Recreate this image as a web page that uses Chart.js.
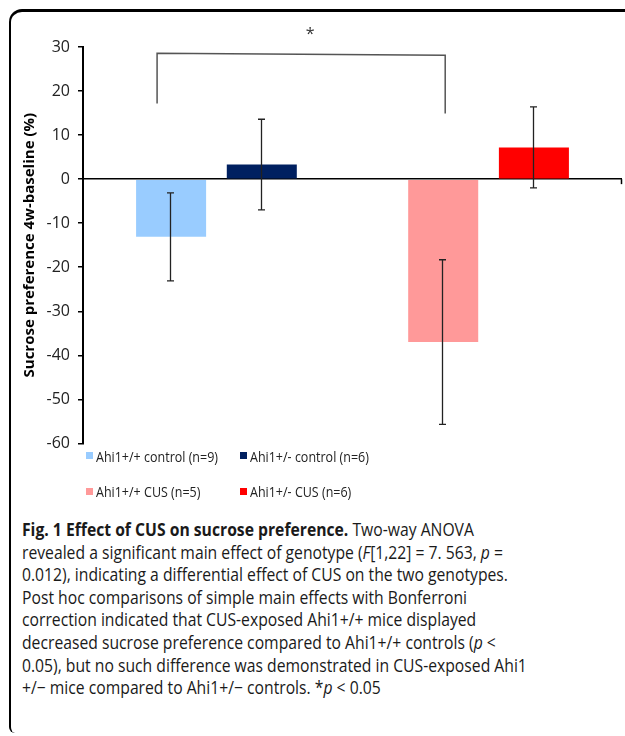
<!DOCTYPE html>
<html>
<head>
<meta charset="utf-8">
<title>Effect of CUS on sucrose preference</title>
<script src="https://cdn.jsdelivr.net/npm/chart.js@4/dist/chart.umd.min.js"></script>
<style>
  html, body { margin: 0; padding: 0; background: #fff; }
  body { width: 625px; height: 736px; position: relative; overflow: hidden; }
  #frame {
    position: absolute; left: 9px; top: 9px; width: 640px; height: 724px;
    border-left: 2px solid #000; border-top: 3px solid #000;
    border-top-left-radius: 13px; border-bottom-left-radius: 6px;
    box-sizing: border-box;
  }
  #chart { position: absolute; left: 0; top: 0; }
  #legend {
    position: absolute; left: 86px; top: 438px;
    display: grid; grid-template-columns: 154px auto; grid-auto-rows: 35.5px;
    font-family: "Open Sans", sans-serif; font-size: 15px; color: #222;
  }
  #legend .item { display: flex; align-items: center; white-space: nowrap; }
  #legend .sw { width: 7px; height: 7px; margin-right: 3px; flex: none; }
  #legend .tx { display: inline-block; transform-origin: 0 50%; }
  #caption {
    position: absolute; left: 22px; top: 518px;
    font-family: "Open Sans", sans-serif; font-size: 17.5px; line-height: 22.6px;
    color: #1a1a1a; transform-origin: 0 0; white-space: nowrap;
  }
  #caption div { display: block; }
  #caption span.ln { display: inline-block; }
</style>
</head>
<body>
<div id="frame"></div>
<canvas id="chart" width="625" height="461"></canvas>
<div id="legend"></div>
<div id="caption">
  <div><span class="ln"><b>Fig. 1 Effect of CUS on sucrose preference.</b> Two-way ANOVA</span></div>
  <div><span class="ln">revealed a significant main effect of genotype (<i>F</i>[1,22] = 7. 563, <i>p</i> =</span></div>
  <div><span class="ln" id="refLine">0.012), indicating a differential effect of CUS on the two genotypes.</span></div>
  <div><span class="ln">Post hoc comparisons of simple main effects with Bonferroni</span></div>
  <div><span class="ln">correction indicated that CUS-exposed Ahi1+/+ mice displayed</span></div>
  <div><span class="ln">decreased sucrose preference compared to Ahi1+/+ controls (<i>p</i> &lt;</span></div>
  <div><span class="ln">0.05), but no such difference was demonstrated in CUS-exposed Ahi1</span></div>
  <div><span class="ln">+/− mice compared to Ahi1+/− controls. *<i>p</i> &lt; 0.05</span></div>
</div>
<script>
// Groups, means and error (± half-range) of sucrose preference change, 4 weeks vs baseline (%)
const groups = ['Ahi1+/+ control (n=9)', 'Ahi1+/- control (n=6)', 'Ahi1+/+ CUS (n=5)', 'Ahi1+/- CUS (n=6)'];
const means = [-13.1, 3.3, -37.0, 7.2];
const errors = [10.0, 10.3, 18.7, 9.2];
const colors = ['#99ccff', '#002060', '#ff9999', '#ff0000'];
const yTicks = [-60, -50, -40, -30, -20, -10, 0, 10, 20, 30];
const yTitle = 'Sucrose preference 4w-baseline (%)';
// Significance bracket between Ahi1+/+ control and Ahi1+/+ CUS (y values in %)
const bracketY = { leftFoot: 17.2, leftTop: 28.6, rightTop: 28.1, rightFoot: 14.9, star: 33.6 };
const bracketLabel = '*';

// Control bars and CUS bars are separated by one empty slot
const datasets = [];
groups.forEach((g, i) => {
  if (i === 2) {
    datasets.push({ label: '', data: [null], backgroundColor: 'rgba(0,0,0,0)', spacer: true });
  }
  datasets.push({ label: g, data: [means[i]], backgroundColor: colors[i], err: errors[i] });
});

const errorBars = {
  id: 'errorBars',
  afterDatasetsDraw(chart) {
    const { ctx, scales: { y } } = chart;
    ctx.save();
    ctx.strokeStyle = '#222';
    ctx.lineWidth = 1.3;
    chart.data.datasets.forEach((ds, di) => {
      if (ds.spacer) return;
      chart.getDatasetMeta(di).data.forEach((bar, j) => {
        const v = ds.data[j];
        const top = y.getPixelForValue(v + ds.err);
        const bot = y.getPixelForValue(v - ds.err);
        const x = Math.round(bar.x) - 0.5;
        const cap = 3.5;
        ctx.beginPath();
        ctx.moveTo(x, top); ctx.lineTo(x, bot);
        ctx.moveTo(x - cap, top); ctx.lineTo(x + cap, top);
        ctx.moveTo(x - cap, bot); ctx.lineTo(x + cap, bot);
        ctx.stroke();
      });
    });
    ctx.restore();
  }
};

const annotations = {
  id: 'annotations',
  afterDraw(chart) {
    const { ctx, scales: { y }, chartArea } = chart;
    const bars = chart.data.datasets.map((ds, i) => ds.spacer ? null : chart.getDatasetMeta(i).data[0]).filter(Boolean);
    const b1 = bars[0], b3 = bars[2];
    const xl = b1.x - b1.width * 0.2;
    const xr = b3.x + 2;
    ctx.save();
    // bracket
    ctx.strokeStyle = '#555';
    ctx.lineWidth = 1.5;
    ctx.beginPath();
    ctx.moveTo(xl, y.getPixelForValue(bracketY.leftFoot));
    ctx.lineTo(xl, y.getPixelForValue(bracketY.leftTop));
    ctx.lineTo(xr, y.getPixelForValue(bracketY.rightTop));
    ctx.lineTo(xr, y.getPixelForValue(bracketY.rightFoot));
    ctx.stroke();
    // significance mark
    ctx.fillStyle = '#333';
    ctx.font = '16px "Open Sans", sans-serif';
    ctx.textAlign = 'center';
    ctx.textBaseline = 'middle';
    ctx.fillText(bracketLabel, (xl + xr) / 2 + 9, y.getPixelForValue(bracketY.star) + 3);
    // tick at the right end of the zero line
    const y0 = y.getPixelForValue(0);
    ctx.strokeStyle = '#000';
    ctx.lineWidth = 1.5;
    ctx.beginPath();
    ctx.moveTo(chartArea.right - 0.5, y0);
    ctx.lineTo(chartArea.right - 0.5, y0 + 5);
    ctx.stroke();
    ctx.restore();
  }
};

new Chart(document.getElementById('chart'), {
  type: 'bar',
  data: { labels: [''], datasets },
  options: {
    responsive: false,
    devicePixelRatio: 1,
    animation: false,
    events: [],
    layout: { padding: { top: 47, bottom: 0, left: 0, right: 3 } },
    plugins: { legend: { display: false }, tooltip: { enabled: false } },
    datasets: { bar: { categoryPercentage: 0.8414, barPercentage: 0.772 } },
    scales: {
      x: { display: false },
      y: {
        min: -60, max: 30,
        afterBuildTicks: s => { s.ticks = yTicks.map(v => ({ value: v })); },
        afterFit: s => { s.width = 83; },
        ticks: { color: '#222', font: { family: 'Open Sans', size: 16 }, padding: 8 },
        border: { display: true, color: '#000', width: 2 },
        grid: {
          color: c => (c.tick && c.tick.value === 0) ? '#000' : 'rgba(0,0,0,0)',
          lineWidth: 1.5,
          tickColor: '#000',
          tickLength: 5,
          drawTicks: true
        },
        title: {
          display: true, text: yTitle, color: '#000',
          font: { family: 'Open Sans', weight: 'bold', size: 15 },
          padding: { top: 21, bottom: 0 }
        }
      }
    }
  },
  plugins: [errorBars, annotations]
});

// Legend: two columns, control row above CUS row
const legend = document.getElementById('legend');
const legendTexts = [];
groups.forEach((g, i) => {
  const item = document.createElement('div');
  item.className = 'item';
  const sw = document.createElement('span');
  sw.className = 'sw';
  sw.style.background = colors[i];
  const tx = document.createElement('span');
  tx.className = 'tx';
  tx.textContent = g;
  item.appendChild(sw); item.appendChild(tx);
  legend.appendChild(item);
  legendTexts.push(tx);
});
// Legend labels set in a narrow measure
const lw = legendTexts[0].getBoundingClientRect().width;
legendTexts.forEach(t => { t.style.transform = 'scaleX(' + (122 / lw).toFixed(4) + ')'; });

// Caption set in a narrow measure
const cap = document.getElementById('caption');
const w = document.getElementById('refLine').getBoundingClientRect().width;
cap.style.transform = 'scaleX(' + (486 / w).toFixed(4) + ')';
</script>
</body>
</html>
